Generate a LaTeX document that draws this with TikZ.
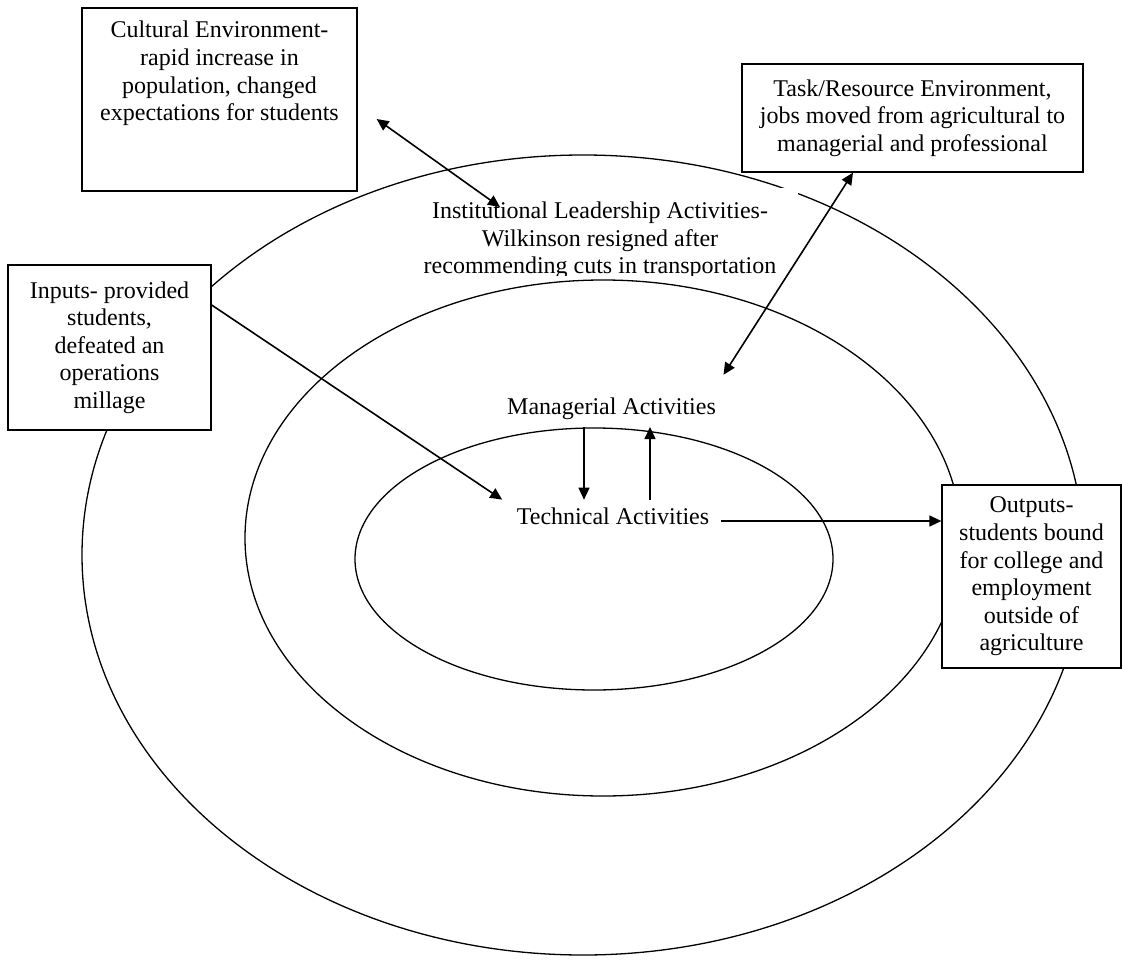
\documentclass[tikz,border=0pt]{standalone}
\usepackage{fontspec}
\setmainfont{Liberation Serif}
\usetikzlibrary{arrows.meta,calc}
\begin{document}
\begin{tikzpicture}[x=1pt,y=-1pt,
  every node/.style={font=\fontsize{24}{27.6}\selectfont},
  ring/.style={draw, line width=1.3pt},
  envbox/.style={draw, line width=1.3pt, fill=white, align=center, inner sep=0pt},
  activity/.style={inner sep=7.5pt, align=center},
  link/.style={line width=1.6pt, -{Triangle[length=12pt,width=11pt]}},
  twoway/.style={line width=1.6pt, {Triangle[length=12pt,width=11pt]}-{Triangle[length=12pt,width=11pt]}}]
\useasboundingbox (0,0) rectangle (1122,966);

% nested organisational layers
\draw[ring] (583,555) ellipse [x radius=501, y radius=400];
\draw[ring] (603,538) ellipse [x radius=358, y radius=258];
\draw[ring] (594,559) ellipse [x radius=239, y radius=131];

% environment boxes
\node[envbox, minimum width=275pt, minimum height=183pt,
  label={[anchor=north, inner sep=0pt, align=center, yshift=-13.6pt]north:Cultural Environment-\\rapid increase in\\population, changed\\expectations for students}]
  (cult) at (219.5,99.5) {};
\node[envbox, minimum width=341pt, minimum height=108pt] (task) at (912.5,118)
  {Task/Resource Environment,\\jobs moved from agricultural to\\managerial and professional};
\node[envbox, minimum width=203pt, minimum height=165pt] (in) at (109.5,347.5)
  {Inputs- provided\\students,\\defeated an\\operations\\millage};
\node[envbox, minimum width=179pt, minimum height=183pt] (out) at (1031.5,576.5)
  {Outputs-\\students bound\\for college and\\employment\\outside of\\agriculture};

% institutional layer label, cut off at the bottom of its text frame
\fill[white] (402,188) rectangle (798,275);
\begin{scope}
  \clip (402,188) rectangle (798,275);
  \node[inner sep=0pt, align=center] (inst) at (600,240.4)
    {Institutional Leadership Activities-\\Wilkinson resigned after\\recommending cuts in transportation};
\end{scope}

% inner layers
\node[activity] (mgr) at (611.5,408.4) {Managerial Activities};
\node[activity] (tech) at (613,515.8) {Technical Activities};

% connector end points
\coordinate (cultA) at ($(cult.east)+(19,19.5)$);
\coordinate (instA) at (500,207);
\coordinate (taskA) at ($(task.south)+(-59.5,0)$);
\coordinate (mgrA) at ($(mgr.north east)+(0,-15)$);
\coordinate (inA) at ($(in.east)+(0,-42.5)$);
\coordinate (techA) at ($(tech.north west)+(-7,0)$);
\coordinate (dnA) at ($(mgr.south)+(-27.5,0)$);
\coordinate (upA) at ($(tech.north)+(37,0)$);
\coordinate (techR) at ($(tech.east)+(4.5,5.2)$);

% flows between environment and layers
\draw[twoway] (cultA) -- (instA);
\draw[twoway] (taskA) -- (mgrA);
\draw[link] (inA) -- (techA);
\draw[link] (dnA) -- (dnA |- tech.north);
\draw[link] (upA) -- (upA |- mgr.south);
\draw[link] (techR) -- (techR -| out.west);
\end{tikzpicture}
\end{document}
